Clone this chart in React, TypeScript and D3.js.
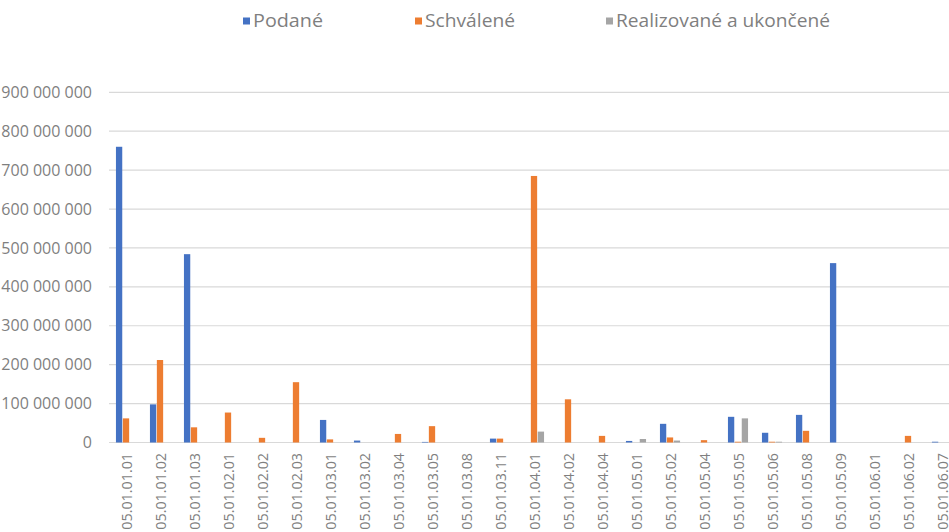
import React from "react";
import * as d3 from "d3";

const categories = [
  "05.01.01.01", "05.01.01.02", "05.01.01.03", "05.01.02.01", "05.01.02.02",
  "05.01.02.03", "05.01.03.01", "05.01.03.02", "05.01.03.04", "05.01.03.05",
  "05.01.03.08", "05.01.03.11", "05.01.04.01", "05.01.04.02", "05.01.04.04",
  "05.01.05.01", "05.01.05.02", "05.01.05.04", "05.01.05.05", "05.01.05.06",
  "05.01.05.08", "05.01.05.09", "05.01.06.01", "05.01.06.02", "05.01.06.07",
];

const podane = [
  760e6, 98e6, 484e6, 0, 0, 0, 58e6, 5e6, 0, 1.5e6, 0, 10e6, 0, 0, 0,
  4e6, 48e6, 0, 66e6, 25e6, 71e6, 461e6, 0, 0, 2e6,
];
const schvalene = [
  62e6, 212e6, 39e6, 77e6, 12e6, 155e6, 8e6, 0, 22e6, 42e6, 0, 10e6, 685e6, 111e6, 17e6,
  0, 13e6, 6e6, 2e6, 2e6, 30e6, 0, 0, 17e6, 0,
];
const realizovane = [
  0, 0, 0, 0, 0, 0, 0, 0, 0, 0, 0, 0, 28e6, 0, 0,
  9e6, 5e6, 0, 62e6, 2e6, 0, 0, 0, 0, 0,
];

const seriesNames = ["Podané", "Schválené", "Realizované a ukončené"];
const seriesColors = ["#4472C4", "#ED7D31", "#A5A5A5"];
const yTicks = [0, 100e6, 200e6, 300e6, 400e6, 500e6, 600e6, 700e6, 800e6, 900e6];

const W = 949;
const H = 532;
const FONT = "'Open Sans', 'DejaVu Sans', sans-serif";
const TEXT = "#7F7F7F";

export default function App() {
  const x = d3.scaleBand<string>().domain(categories).range([109, 959]);
  const y = d3.scaleLinear().domain([0, 900e6]).range([442.5, 92.3]);
  const data = [podane, schvalene, realizovane];
  const barW = 6.3;
  const step = 6.9;
  const fmt = (v: number) =>
    v === 0 ? "0" : d3.format(",")(v).replace(/,/g, " ");

  const legendX = [243, 415, 606];
  const legendW = [70, 90, 214];

  return (
    <svg
      width={W}
      height={H}
      style={{ position: "absolute", left: 0, top: 0, background: "#fff" }}
      fontFamily={FONT}
    >
      {/* gridlines */}
      {yTicks.map((t) => (
        <line
          key={t}
          x1={109}
          x2={W}
          y1={y(t)}
          y2={y(t)}
          stroke="#D9D9D9"
          strokeWidth={1.2}
        />
      ))}
      {/* y labels */}
      {yTicks.map((t) => (
        <text
          key={"l" + t}
          x={92}
          y={y(t)}
          dy="0.35em"
          textAnchor="end"
          fontSize={16}
          fill={TEXT}
        >
          {fmt(t)}
        </text>
      ))}
      {/* bars */}
      {data.map((vals, si) =>
        vals.map((v, i) => {
          if (v <= 0) return null;
          const cx = x(categories[i])! + x.bandwidth() / 2;
          const bx = cx + (si - 1) * step - barW / 2;
          return (
            <rect
              key={si + "-" + i}
              x={bx}
              y={y(v)}
              width={barW}
              height={y(0) - y(v)}
              fill={seriesColors[si]}
            />
          );
        })
      )}
      {/* x labels */}
      {categories.map((c) => {
        const cx = x(c)! + x.bandwidth() / 2 + 1;
        return (
          <text
            key={c}
            transform={`translate(${cx},453) rotate(-90)`}
            textAnchor="end"
            dy="0.35em"
            fontSize={14.3}
            fill={TEXT}
          >
            {c}
          </text>
        );
      })}
      {/* legend */}
      {seriesNames.map((n, i) => (
        <g key={n} transform={`translate(${legendX[i]},21)`}>
          <rect x={0} y={-3.5} width={7} height={7} fill={seriesColors[i]} />
          <text
            x={10}
            y={0}
            dy="0.35em"
            fontSize={18}
            textLength={legendW[i]}
            lengthAdjust="spacingAndGlyphs"
            fill={TEXT}
          >
            {n}
          </text>
        </g>
      ))}
    </svg>
  );
}
